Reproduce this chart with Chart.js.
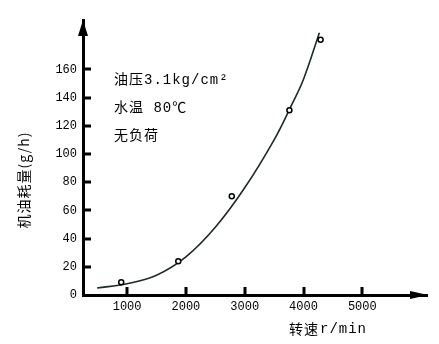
<!DOCTYPE html>
<html>
<head>
<meta charset="utf-8">
<script src="https://cdn.jsdelivr.net/npm/chart.js@4.4.1/dist/chart.umd.min.js"></script>
<style>
  body { margin: 0; background: #fff; }
</style>
</head>
<body>
<canvas id="oil-chart" width="439" height="344"></canvas>
<script>
// 机油耗量 vs 转速

// measured points
var speedPts = [900, 1870, 2780, 3760, 4290];
var oilPts = [9, 24, 70, 131, 181];

// faired curve through the measurements
var curveSpeed = [490, 1000, 1500, 2000, 2500, 3000, 3500, 3800, 4000, 4270];
var curveOil = [5, 8, 14, 27, 48, 76, 110, 135, 153, 186];

var xTicks = [1000, 2000, 3000, 4000, 5000];
var yTicks = [0, 20, 40, 60, 80, 100, 120, 140, 160];

var notes = ["油压3.1kg/cm²", "水温 80℃", "无负荷"];

var monoFont = "'Liberation Mono', 'Noto Sans CJK SC', monospace";
var cjkFont = "'Noto Sans CJK SC', 'Liberation Mono', sans-serif";

function toXY(xs, ys) {
    var out = [];
    for (var i = 0; i < xs.length; i++) {
        out.push({ x: xs[i], y: ys[i] });
    }
    return out;
}

// axis arrows, inward tick marks, titles and notes
var axisDecor = {
    id: 'axisDecor',
    afterDraw: function (chart) {
        var ctx = chart.ctx;
        var area = chart.chartArea;
        var xs = chart.scales.x;
        var ys = chart.scales.y;
        ctx.save();
        ctx.fillStyle = '#000';
        ctx.strokeStyle = '#000';
        ctx.lineWidth = 3;

        // tick marks on the inside of the axes
        ctx.beginPath();
        yTicks.forEach(function (v) {
            if (v == 0) return;
            var py = Math.round(ys.getPixelForValue(v));
            ctx.moveTo(area.left, py);
            ctx.lineTo(area.left + 8, py);
        });
        xTicks.forEach(function (v) {
            var px = Math.round(xs.getPixelForValue(v));
            ctx.moveTo(px, area.bottom);
            ctx.lineTo(px, area.bottom - 8);
        });
        ctx.stroke();

        // arrow heads
        ctx.beginPath();
        ctx.moveTo(area.left, area.top);
        ctx.lineTo(area.left - 5, area.top + 16);
        ctx.lineTo(area.left + 5, area.top + 16);
        ctx.closePath();
        ctx.fill();
        ctx.beginPath();
        ctx.moveTo(area.right + 1, area.bottom);
        ctx.lineTo(area.right - 17, area.bottom - 4);
        ctx.lineTo(area.right - 17, area.bottom + 4);
        ctx.closePath();
        ctx.fill();

        // notes
        ctx.textBaseline = 'middle';
        ctx.textAlign = 'left';
        ctx.font = '14px ' + monoFont;
        if ('letterSpacing' in ctx) ctx.letterSpacing = '1px';
        notes.forEach(function (t, i) {
            ctx.fillText(t, 114, 80 + i * 28);
        });

        // x title
        ctx.font = '14px ' + cjkFont;
        ctx.fillText('转速', 289, 329);
        var w = ctx.measureText('转速').width;
        ctx.font = '14px ' + monoFont;
        ctx.fillText('r/min', 289 + w + 1, 329);

        // y title
        ctx.translate(24, 180);
        ctx.rotate(-Math.PI / 2);
        ctx.textAlign = 'center';
        ctx.font = '14px ' + cjkFont;
        ctx.fillText('机油耗量(g/h)', 0, 0);
        ctx.restore();
    }
};

var ctx = document.getElementById('oil-chart').getContext('2d');
var oilChart = new Chart(ctx, {
    type: 'line',
    data: {
        datasets: [
            {
                label: 'points',
                type: 'scatter',
                data: toXY(speedPts, oilPts),
                pointStyle: 'circle',
                pointRadius: 2.5,
                pointBorderWidth: 1.5,
                pointBorderColor: '#000',
                pointBackgroundColor: '#fff',
                order: 0
            },
            {
                label: 'curve',
                data: toXY(curveSpeed, curveOil),
                borderColor: '#1e2b20',
                borderWidth: 1.6,
                pointRadius: 0,
                tension: 0.4,
                fill: false,
                order: 1
            }
        ]
    },
    options: {
        responsive: false,
        animation: false,
        layout: { padding: { left: 0, top: 20, right: 12, bottom: 0 } },
        plugins: {
            legend: { display: false },
            tooltip: { enabled: false }
        },
        scales: {
            x: {
                type: 'linear',
                position: 'bottom',
                min: 250,
                max: 6100,
                afterBuildTicks: function (scale) {
                    scale.ticks = xTicks.map(function (v) { return { value: v }; });
                },
                afterFit: function (scale) { scale.height = 49; },
                grid: { display: false, drawTicks: false },
                border: { display: true, color: '#000', width: 3 },
                ticks: {
                    autoSkip: false,
                    maxRotation: 0,
                    padding: 5,
                    color: '#000',
                    font: { family: monoFont, size: 12 },
                    callback: function (v) { return String(v); }
                }
            },
            y: {
                type: 'linear',
                min: 0,
                max: 195,
                afterBuildTicks: function (scale) {
                    scale.ticks = yTicks.map(function (v) { return { value: v }; });
                },
                afterFit: function (scale) { scale.width = 83; },
                grid: { display: false, drawTicks: false },
                border: { display: true, color: '#000', width: 3 },
                ticks: {
                    autoSkip: false,
                    padding: 6,
                    color: '#000',
                    font: { family: monoFont, size: 12 },
                    callback: function (v) { return String(v); }
                }
            }
        }
    },
    plugins: [axisDecor]
});
</script>
</body>
</html>
